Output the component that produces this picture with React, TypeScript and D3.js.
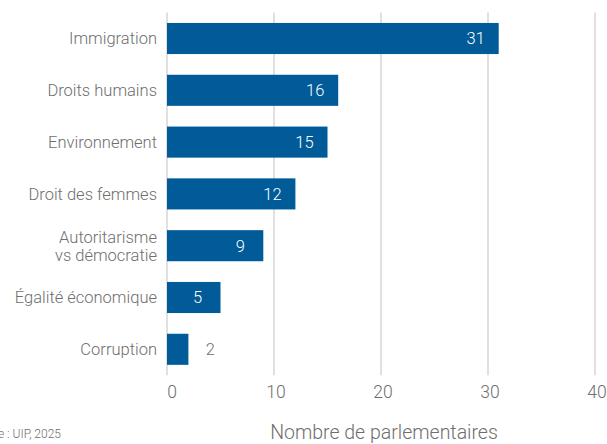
import { useEffect, useRef } from "react";
import * as d3 from "d3";

const categories = [
  "Immigration",
  "Droits humains",
  "Environnement",
  "Droit des femmes",
  "Autoritarisme\nvs démocratie",
  "Égalité économique",
  "Corruption",
];
const values = [31, 16, 15, 12, 9, 5, 2];
const xTicks = [0, 10, 20, 30, 40];

const FONT = "Roboto, 'Liberation Sans', sans-serif";
const BLUE = "#005b98";
const GREY = "#6e6e6e";

export default function App() {
  const svgRef = useRef<SVGSVGElement>(null);

  useEffect(() => {
    const svg = d3.select(svgRef.current);
    svg.selectAll("*").remove(); // start clean

    const data = categories.map((c, i) => ({ name: c, value: values[i] }));

    const x = d3.scaleLinear().domain([0, 40]).range([167, 595]);
    const y = d3
      .scaleBand()
      .domain(categories)
      .range([12.6, 375.2])
      .paddingInner(0.4)
      .paddingOuter(0.2);

    // grid
    svg
      .append("g")
      .selectAll("line")
      .data(xTicks)
      .enter()
      .append("line")
      .attr("x1", (d) => x(d))
      .attr("x2", (d) => x(d))
      .attr("y1", 12.6)
      .attr("y2", 375.2)
      .attr("stroke", "#d6d6d6")
      .attr("stroke-width", 1.5);

    // bars
    svg
      .append("g")
      .selectAll("rect")
      .data(data)
      .enter()
      .append("rect")
      .attr("x", x(0))
      .attr("y", (d) => y(d.name) || 0)
      .attr("width", (d) => x(d.value) - x(0))
      .attr("height", y.bandwidth())
      .attr("fill", BLUE);

    // value labels
    svg
      .append("g")
      .selectAll("text")
      .data(data)
      .enter()
      .append("text")
      .attr("x", (d) => (d.value > 3 ? x(d.value) - 23 : x(d.value) + 22))
      .attr("y", (d) => (y(d.name) || 0) + y.bandwidth() / 2)
      .attr("dy", "0.36em")
      .attr("text-anchor", "middle")
      .attr("font-family", FONT)
      .attr("font-weight", 300)
      .attr("font-size", 16.5)
      .attr("fill", (d) => (d.value > 3 ? "#fff" : GREY))
      .text((d) => d.value);

    // category labels
    const cat = svg
      .append("g")
      .selectAll("text")
      .data(data)
      .enter()
      .append("text")
      .attr("x", 157)
      .attr("y", (d) => (y(d.name) || 0) + y.bandwidth() / 2)
      .attr("text-anchor", "end")
      .attr("font-family", FONT)
      .attr("font-weight", 300)
      .attr("font-size", 16.5)
      .attr("fill", GREY);
    cat.each(function (d) {
      const lines = d.name.split("\n");
      const t = d3.select(this);
      lines.forEach((l, i) => {
        t.append("tspan")
          .attr("x", 157)
          .attr("dy", i === 0 ? `${0.36 - (lines.length - 1) * 0.54}em` : "1.08em")
          .text(l);
      });
    });

    // x axis tick labels
    svg
      .append("g")
      .selectAll("text")
      .data(xTicks)
      .enter()
      .append("text")
      .attr("x", (d) => x(d) + (d === 0 ? 5 : 2))
      .attr("y", 392)
      .attr("dy", "0.36em")
      .attr("text-anchor", "middle")
      .attr("font-family", FONT)
      .attr("font-weight", 300)
      .attr("font-size", 17.5)
      .attr("fill", GREY)
      .text((d) => d);

    svg
      .append("text")
      .attr("x", 384)
      .attr("y", 432)
      .attr("dy", "0.36em")
      .attr("text-anchor", "middle")
      .attr("font-family", FONT)
      .attr("font-weight", 300)
      .attr("font-size", 19.5)
      .attr("fill", GREY)
      .text("Nombre de parlementaires");

    svg
      .append("text")
      .attr("x", 61)
      .attr("y", 434)
      .attr("dy", "0.36em")
      .attr("text-anchor", "end")
      .attr("font-family", FONT)
      .attr("font-weight", 300)
      .attr("font-size", 12)
      .attr("fill", GREY)
      .text("Source : UIP, 2025");
  }, []);

  return (
    <svg
      ref={svgRef}
      width={607}
      height={444}
      style={{ position: "absolute", left: 0, top: 0, background: "#fff" }}
    />
  );
}
